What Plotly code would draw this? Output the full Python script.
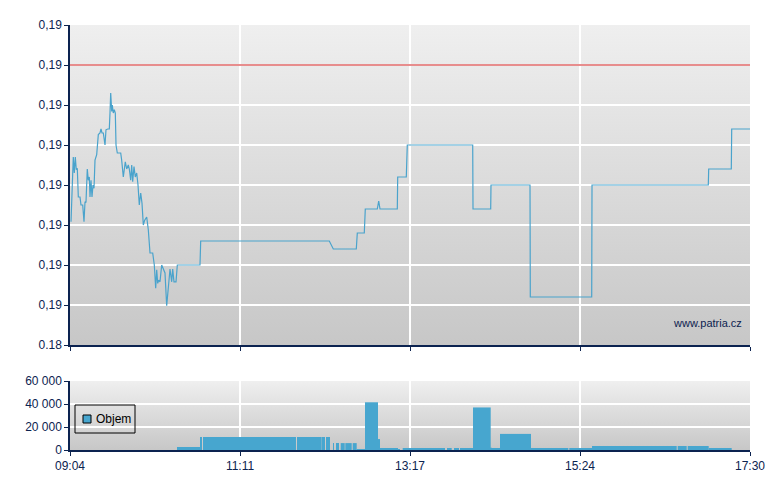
import base64
from datetime import datetime
import plotly.graph_objects as go

DAY = "2024-05-20"

# ---- price (trades) ----
price_times = [
    "09:04:45", "09:06:27", "09:07:12", "09:07:57", "09:08:41", "09:09:26", "09:10:11", "09:11:26",
    "09:12:11", "09:13:27", "09:14:25", "09:15:10", "09:15:54", "09:16:52", "09:17:37", "09:18:22",
    "09:18:53", "09:19:38", "09:20:22", "09:21:07", "09:21:52", "09:22:36", "09:23:52", "09:25:04",
    "09:26:19", "09:27:04", "09:27:49", "09:28:47", "09:30:03", "09:30:47", "09:32:03", "09:33:15",
    "09:33:46", "09:34:17", "09:35:02", "09:35:29", "09:36:13", "09:36:58", "09:37:43", "09:38:14",
    "09:39:12", "09:41:44", "09:42:28", "09:43:40", "09:45:09", "09:46:12", "09:47:23", "09:48:08",
    "09:49:10", "09:49:55", "09:50:39", "09:51:37", "09:52:35", "09:53:38", "09:54:36", "09:55:34",
    "09:56:37", "09:57:35", "09:58:33", "09:59:35", "10:01:04", "10:02:16", "10:03:32", "10:05:32",
    "10:06:44", "10:07:46", "10:08:31", "10:09:16", "10:10:00", "10:10:58", "10:12:14", "10:13:26",
    "10:14:41", "10:15:57", "10:17:09", "10:18:25", "10:19:41", "10:20:25", "10:21:23", "10:22:53",
    "10:23:51", "10:40:44", "10:41:15", "12:16:57", "12:19:56", "12:37:02", "12:37:47", "12:42:59",
    "12:43:44", "12:52:40", "12:53:43", "12:54:41", "13:07:33", "13:07:51", "13:14:15", "13:14:59",
    "14:03:40", "14:03:53", "14:17:03", "14:17:16", "14:46:18", "14:46:31", "15:32:13", "15:32:26",
    "16:58:58", "16:59:16", "17:16:05", "17:16:23", "17:30:00",
]
price_values = [
    0.18654, 0.18735, 0.18715, 0.18735, 0.18719, 0.18721, 0.18685, 0.18685,
    0.18675, 0.18675, 0.18654, 0.18679, 0.18678, 0.18720, 0.18706, 0.18710,
    0.18685, 0.18706, 0.18685, 0.18700, 0.18696, 0.18731, 0.18738, 0.18763,
    0.18765, 0.18770, 0.18765, 0.18765, 0.18750, 0.18769, 0.18770, 0.18770,
    0.18790, 0.18815, 0.18792, 0.18800, 0.18790, 0.18794, 0.18790, 0.18750,
    0.18740, 0.18740, 0.18731, 0.18710, 0.18729, 0.18720, 0.18725, 0.18720,
    0.18706, 0.18725, 0.18704, 0.18723, 0.18710, 0.18715, 0.18700, 0.18675,
    0.18690, 0.18677, 0.18650, 0.18656, 0.18660, 0.18644, 0.18615, 0.18615,
    0.18600, 0.18571, 0.18594, 0.18577, 0.18581, 0.18579, 0.18600, 0.18594,
    0.18590, 0.18549, 0.18573, 0.18595, 0.18579, 0.18595, 0.18579, 0.18579,
    0.18600, 0.18600, 0.18630, 0.18630, 0.18620, 0.18620, 0.18640, 0.18640,
    0.18670, 0.18670, 0.18680, 0.18670, 0.18670, 0.18710, 0.18710, 0.18750,
    0.18750, 0.18670, 0.18670, 0.18700, 0.18700, 0.18560, 0.18560, 0.18700,
    0.18700, 0.18720, 0.18720, 0.18770, 0.18770,
]
prev_close = 0.1885

# ---- volume ----
vol_start = [
    "10:23:37", "10:40:44", "10:42:58", "11:52:55", "12:12:02", "12:13:14", "12:14:30", "12:15:45",
    "12:16:57", "12:19:42", "12:22:27", "12:23:39", "12:25:26", "12:28:52", "12:34:22", "12:37:20",
    "12:43:31", "12:53:11", "12:54:41", "13:08:04", "13:11:34", "13:44:32", "13:49:45", "13:54:13",
    "14:03:53", "14:17:03", "14:18:01", "14:23:58", "14:47:02", "15:15:32", "15:32:26", "16:36:13",
    "16:43:39", "16:59:16",
]
vol_end = [
    "10:40:44", "10:42:13", "11:52:10", "12:11:17", "12:12:33", "12:13:45", "12:15:01", "12:16:16",
    "12:17:28", "12:20:13", "12:22:58", "12:24:10", "12:28:25", "12:33:37", "12:37:20", "12:43:31",
    "12:53:11", "12:54:41", "13:08:04", "13:09:34", "13:43:03", "13:48:02", "13:53:28", "14:03:53",
    "14:17:03", "14:18:01", "14:23:58", "14:47:02", "15:14:48", "15:32:26", "16:35:28", "16:42:54",
    "16:59:16", "17:16:23",
]
vol_values = [
    2600, 11300, 11300, 11300, 11300, 11300, 11300, 11300,
    11300, 6000, 6000, 6000, 6000, 6000, 6000, 800,
    41500, 9500, 1700, 500, 900, 900, 900, 900,
    37000, 2000, 900, 14000, 900, 900, 3500, 3500,
    3500, 900,
]

# ---- axes ----
time_start, time_end = "09:04:00", "17:30:00"
time_tick_labels = ["09:04", "11:11", "13:17", "15:24", "17:30"]
price_tick_values = [0.1850, 0.1855, 0.1860, 0.1865, 0.1870, 0.1875, 0.1880, 0.1885, 0.1890]
price_tick_labels = ["0.18", "0,19", "0,19", "0,19", "0,19", "0,19", "0,19", "0,19", "0,19"]
vol_tick_values = [0, 20000, 40000, 60000]
vol_tick_labels = ["0", "20 000", "40 000", "60 000"]


def dt(t):
    return datetime.fromisoformat(f"{DAY} {t}")


t0, t1 = dt(time_start), dt(time_end)
n = len(time_tick_labels) - 1
time_tick_vals = [t0 + (t1 - t0) * i / n for i in range(n + 1)]

NAVY = "#0c2350"
LINE = "#4aa3cc"
BAR = "#47a6cf"

fig = go.Figure()
fig.add_trace(go.Scatter(
    x=[dt(t) for t in price_times], y=price_values, mode="lines",
    line=dict(color=LINE, width=1.2), xaxis="x", yaxis="y", showlegend=False,
))
mids, widths = [], []
for s, e in zip(vol_start, vol_end):
    a, b = dt(s), dt(e)
    mids.append(a + (b - a) / 2)
    widths.append((b - a).total_seconds() * 1000)
fig.add_trace(go.Bar(
    x=mids, y=vol_values, width=widths, marker=dict(color=BAR, line=dict(width=0)),
    xaxis="x2", yaxis="y2", showlegend=False, name="Objem",
))

svg = ('<svg xmlns="http://www.w3.org/2000/svg" width="10" height="100" preserveAspectRatio="none">'
       '<defs><linearGradient id="g" x1="0" y1="0" x2="0" y2="1">'
       '<stop offset="0" stop-color="#efefef"/><stop offset="1" stop-color="#c7c7c7"/>'
       '</linearGradient></defs><rect width="10" height="100" fill="url(#g)"/></svg>')
uri = "data:image/svg+xml;base64," + base64.b64encode(svg.encode()).decode()
images = [dict(source=uri, xref=f"{xa} domain", yref=f"{ya} domain", x=0, y=1, sizex=1, sizey=1,
               xanchor="left", yanchor="top", sizing="stretch", layer="below")
          for xa, ya in (("x", "y"), ("x2", "y2"))]

font = dict(family="Liberation Sans, Arial, sans-serif", size=12, color=NAVY)
xcommon = dict(type="date", range=[t0, t1], tickvals=time_tick_vals, ticks="outside", ticklen=4,
               tickcolor=NAVY, showline=True, linecolor=NAVY, linewidth=1.5, showgrid=True,
               gridcolor="white", gridwidth=1.5, zeroline=False, automargin=False)

W, H, L, R, T, B = 780, 490, 70, 30, 25, 40
ph = H - T - B


def py(p):
    return (H - B - p) / ph


def px(p):
    return (p - L) / (W - L - R)


fig.update_layout(
    width=W, height=H, margin=dict(l=L, r=R, t=T, b=B),
    paper_bgcolor="white", plot_bgcolor="rgba(0,0,0,0)", font=font, showlegend=False,
    xaxis=dict(xcommon, domain=[0, 1], anchor="y", showticklabels=False),
    yaxis=dict(domain=[py(345), 1], range=[price_tick_values[0], price_tick_values[-1]],
               tickvals=price_tick_values, ticktext=price_tick_labels, ticks="outside", ticklen=4,
               tickcolor=NAVY, showline=True, linecolor=NAVY, linewidth=1.5, gridcolor="white",
               gridwidth=1.5, zeroline=False, automargin=False),
    xaxis2=dict(xcommon, domain=[0, 1], anchor="y2", ticktext=time_tick_labels),
    yaxis2=dict(domain=[0, py(381)], range=[0, vol_tick_values[-1]], tickvals=vol_tick_values,
                ticktext=vol_tick_labels, ticks="outside", ticklen=4, tickcolor=NAVY, showline=True,
                linecolor=NAVY, linewidth=1.5, gridcolor="white", gridwidth=1.5, zeroline=False,
                automargin=False),
    images=images,
    shapes=[
        dict(type="line", xref="x domain", yref="y", x0=0, x1=1, y0=prev_close, y1=prev_close,
             line=dict(color="#d01c1c", width=1.2), layer="above"),
        dict(type="rect", xref="paper", yref="paper", x0=px(75), x1=px(135), y0=py(433), y1=py(405),
             line=dict(color="black", width=1), fillcolor="rgba(0,0,0,0)"),
        dict(type="rect", xref="paper", yref="paper", x0=px(83), x1=px(91), y0=py(423), y1=py(415),
             line=dict(color="black", width=1), fillcolor=BAR),
    ],
    annotations=[
        dict(text="Objem", xref="paper", yref="paper", x=px(94), y=py(419), xanchor="left",
             yanchor="middle", showarrow=False, font=dict(size=12, color="black")),
        dict(text="www.patria.cz", xref="paper", yref="paper", x=px(744), y=py(323), xanchor="right",
             yanchor="middle", showarrow=False, font=dict(size=11, color=NAVY)),
    ],
)

fig.write_html("out.html", config={"displayModeBar": False},
               post_script="document.body.style.margin='0';")
